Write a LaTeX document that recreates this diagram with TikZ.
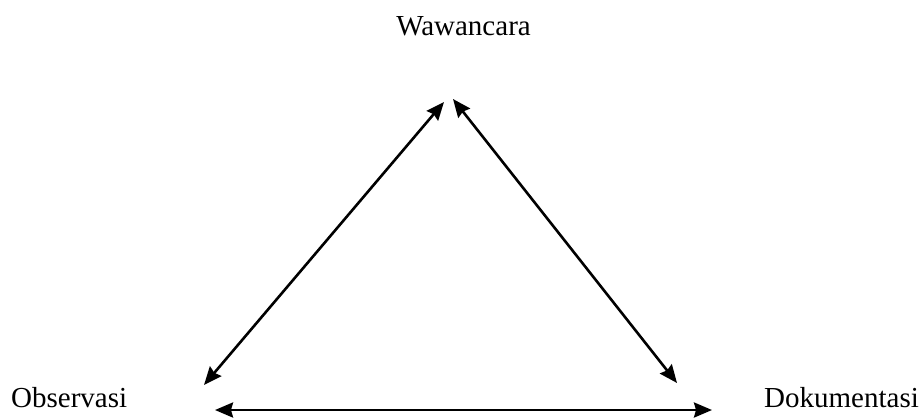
\documentclass[tikz,border=0pt]{standalone}
\usepackage{fontspec}
\setmainfont{Liberation Serif}
\usetikzlibrary{arrows.meta}
\begin{document}
\begin{tikzpicture}[x=1pt,y=1pt,
  lbl/.style={font=\fontsize{29}{31}\selectfont, inner sep=0pt, anchor=base},
  link/.style={line width=2.6pt, {Stealth[length=18pt,width=15pt,inset=2pt]}-{Stealth[length=18pt,width=15pt,inset=2pt]}}]
\useasboundingbox (0,0) rectangle (920,-418);
\node[lbl] (waw) at (463.5,-35) {Wawancara};
\node[lbl, anchor=base west] (obs) at (11,-407) {Observasi};
\node[lbl, anchor=base west] (dok) at (764,-407) {Dokumentasi};
\coordinate (wl) at (444,-102);
\coordinate (wr) at (453,-99);
\coordinate (ol) at (204,-385);
\coordinate (dr) at (677,-383);
\coordinate (bl) at (215,-410);
\coordinate (br) at (712,-410);
\draw[link] (wl) -- (ol);
\draw[link] (wr) -- (dr);
\draw[link] (bl) -- (br);
\end{tikzpicture}
\end{document}
